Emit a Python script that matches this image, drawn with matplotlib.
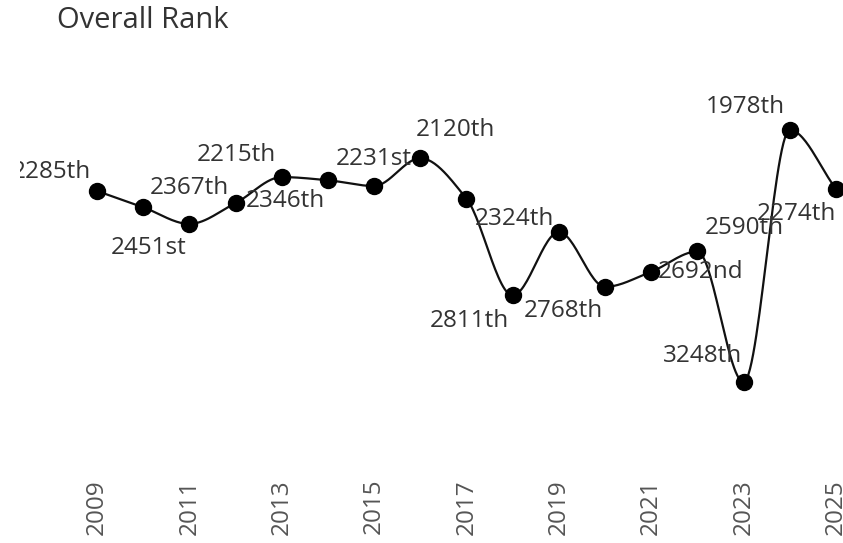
import numpy as np
import matplotlib.pyplot as plt

# Data
years = list(range(2009, 2026))
ranks = [2285, 2367, 2451, 2346, 2215, 2231, 2260, 2120, 2324,
         2811, 2492, 2768, 2692, 2590, 3248, 1978, 2274]
hidden = [2015, 2019]  # labels not drawn in the original
tick_years = list(range(2009, 2026, 2))

# label placement per year: (dx px, dy px, ha)
label_pos = {
    2009: (-6, 19, 'right'), 2010: (7, 19, 'left'), 2011: (-3, -24, 'right'),
    2012: (10, 2, 'left'), 2013: (-6, 22, 'right'), 2014: (8, 21, 'left'),
    2016: (-5, 28, 'left'), 2017: (8, -20, 'left'), 2018: (-4, -26, 'right'),
    2020: (-2, -24, 'right'), 2021: (7, 0, 'left'), 2022: (7, 23, 'left'),
    2023: (-1, 26, 'right'), 2024: (-5, 23, 'right'), 2025: (0, -25, 'right'),
}


def ordinal(n):
    if 10 <= n % 100 <= 20:
        suf = 'th'
    else:
        suf = {1: 'st', 2: 'nd', 3: 'rd'}.get(n % 10, 'th')
    return f"{n}{suf}"


def monotone(x, y, n=30):
    # monotone cubic (Fritsch-Carlson) path through the points
    x = np.asarray(x, float)
    y = np.asarray(y, float)
    h = np.diff(x)
    d = np.diff(y) / h
    m = np.zeros_like(y)
    m[0], m[-1] = d[0], d[-1]
    for i in range(1, len(x) - 1):
        if d[i - 1] * d[i] <= 0:
            m[i] = 0
        else:
            m[i] = (h[i - 1] + h[i]) * 3 / ((2 * h[i] + h[i - 1]) / d[i - 1] + (h[i] + 2 * h[i - 1]) / d[i])
    xs, ys = [], []
    for i in range(len(x) - 1):
        t = np.linspace(0, 1, n)
        h00 = 2 * t**3 - 3 * t**2 + 1
        h10 = t**3 - 2 * t**2 + t
        h01 = -2 * t**3 + 3 * t**2
        h11 = t**3 - t**2
        xs.append(x[i] + t * h[i])
        ys.append(h00 * y[i] + h10 * h[i] * m[i] + h01 * y[i + 1] + h11 * h[i] * m[i + 1])
    return np.concatenate(xs), np.concatenate(ys)


plt.rcParams['font.family'] = ['Open Sans', 'DejaVu Sans']

fig = plt.figure(figsize=(8.43, 5.43), dpi=100)
ax = fig.add_axes([20 / 843, 103 / 543, 823 / 843, 380 / 543])

sx, sy = monotone(years, ranks)
ax.plot(sx, sy, color='#111111', lw=1.6, zorder=2)
ax.plot(years, ranks, 'o', color='black', ms=11.5, zorder=3)

for yr, rk in zip(years, ranks):
    if yr in hidden:
        continue
    dx, dy, ha = label_pos[yr]
    t = ax.annotate(ordinal(rk), (yr, rk), xytext=(dx, dy), textcoords='offset pixels',
                    ha=ha, va='center', fontsize=17.5, color='#333333', zorder=4)
    t.set_clip_on(True)
    t.set_clip_box(ax.bbox)

ax.set_xlim(2007.333, 2025.152)
ax.set_ylim(3540, 1625)
ax.set_xticks(tick_years)
ax.set_xticklabels([str(y) for y in tick_years], rotation=90, fontsize=17.5, color='#555555')
ax.tick_params(axis='x', length=0, pad=28)
ax.set_yticks([])
for s in ax.spines.values():
    s.set_visible(False)

fig.text(57 / 843, 1 - 21 / 543, 'Overall Rank', fontsize=21, color='#333333',
         ha='left', va='center')

fig.savefig('out.png', dpi=100)
